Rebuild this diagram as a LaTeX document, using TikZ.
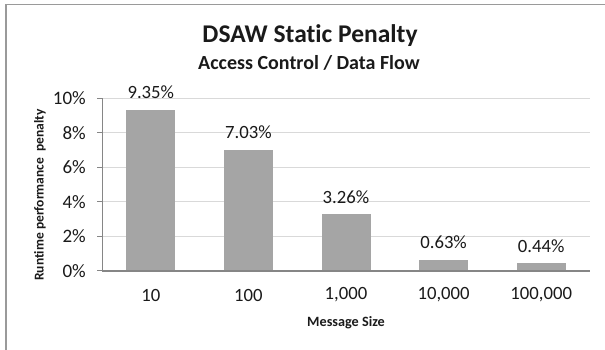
\documentclass[tikz,border=0pt]{standalone}
\usepackage{fontspec}
\setmainfont{Carlito}[Ligatures=NoCommon]
\definecolor{framegray}{HTML}{9A9A9A}
\definecolor{gridgray}{HTML}{D9D9D9}
\definecolor{axisgray}{HTML}{868686}
\definecolor{bargray}{HTML}{A5A5A5}
\definecolor{txt}{HTML}{1A1A1A}
\begin{document}
\begin{tikzpicture}[x=1pt,y=-1pt,
  ticklab/.style={anchor=east,inner sep=0pt,text=txt,font=\fontsize{19}{21}\selectfont},
  vallab/.style={anchor=base,inner sep=0pt,text=txt,font=\fontsize{18.7}{21}\selectfont},
  catlab/.style={anchor=center,inner sep=0pt,text=txt,font=\fontsize{18.7}{21}\selectfont},
  bar/.style={fill=bargray,draw=none},
  grid line/.style={gridgray,line width=1pt},
]
\useasboundingbox (0,0) rectangle (605,350);
\fill[white] (0,0) rectangle (605,350);
% chart frame
\draw[framegray,line width=1.6pt] (6,352) -- (6,4.5) -- (607,4.5);
% titles
\node[inner sep=0pt,text=txt,font=\fontsize{25.5}{27}\selectfont\bfseries] (title) at (310,36) {DSAW Static Penalty};
\node[inner sep=0pt,text=txt,font=\fontsize{20}{22}\selectfont\bfseries] (subtitle) at (309,63) {Access Control / Data Flow};
% gridlines and ticks
\foreach \v/\n in {0/0,2/2,4/4,6/6,8/8,10/10}{
  \pgfmathsetmacro{\yy}{270.7-17.24*\v}
  \ifnum\v>0 \draw[grid line] (102,\yy) -- (590,\yy);\fi
  \draw[axisgray,line width=1pt] (97,\yy) -- (102,\yy);
  \node[ticklab] (t\n) at (86,\yy) {\n\%};
}
% y axis
\draw[axisgray,line width=1pt] (102,98.3) -- (102,270.7);
% bars
\foreach \i/\v/\lab/\cat in {1/9.35/9.35\%/10,2/7.03/7.03\%/100,3/3.26/3.26\%/{1,000},4/0.63/0.63\%/{10,000},5/0.44/0.44\%/{100,000}}{
  \pgfmathsetmacro{\cx}{150.8+97.6*(\i-1)}
  \pgfmathsetmacro{\top}{270.7-17.24*\v}
  \fill[bar] (\cx-24.5,\top) rectangle (\cx+24.5,270.7);
  \coordinate (b\i) at (\cx,\top);
  \node[vallab] (v\i) at (\cx,\top-11) {\lab};
  \node[catlab] (c\i) at (\cx,295) {\cat};
}
% x axis
\draw[axisgray,line width=1.6pt] (102,270.7) -- (590,270.7);
% axis titles
\node[inner sep=0pt,text=txt,font=\fontsize{14.2}{16}\selectfont\bfseries] (xtitle) at (346,323) {Message Size};
\node[inner sep=0pt,text=txt,rotate=90,font=\fontsize{13.5}{15}\selectfont\bfseries] (ytitle) at (40,195) {Runtime performance\ \ penalty};
\end{tikzpicture}
\end{document}
